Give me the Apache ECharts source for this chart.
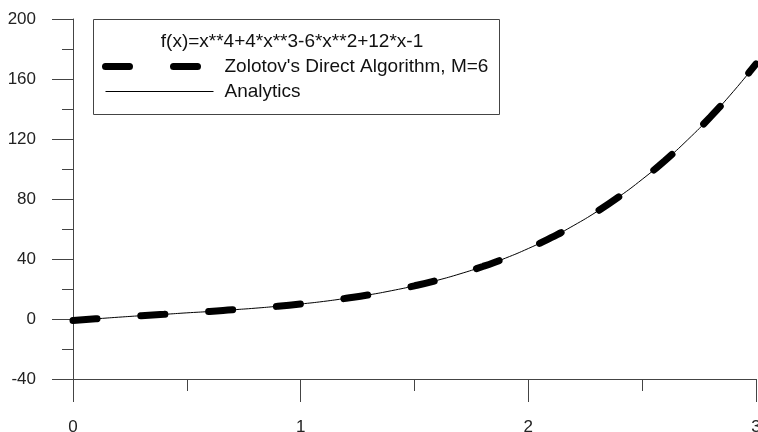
<!DOCTYPE html>
<html>
<head>
<meta charset="utf-8">
<script src="https://cdn.jsdelivr.net/npm/echarts@6/dist/echarts.min.js"></script>
<style>
  html, body { margin: 0; padding: 0; background: #fff; }
  #chart { width: 758px; height: 432px; }
</style>
</head>
<body>
<div id="chart"></div>
<script>
// values
const xValues = [0, 0.1, 0.2, 0.3, 0.4, 0.5, 0.6, 0.7, 0.8, 0.9, 1.0,
    1.1, 1.2, 1.3, 1.4, 1.5, 1.6, 1.7, 1.8, 1.9, 2.0,
    2.1, 2.2, 2.3, 2.4, 2.5, 2.6, 2.7, 2.8, 2.9, 3.0];
const zolotovY = [-1, 0.1, 1.2, 2.2, 3.1, 4.1, 5, 6.1, 7.2, 8.5, 10,
    11.7, 13.8, 16.1, 18.9, 22.1, 25.8, 30.1, 35, 40.6, 47,
    54.2, 62.4, 71.5, 81.7, 93.1, 105.6, 119.5, 134.8, 151.6, 170];
const analyticY = [-1, 0.1, 1.2, 2.2, 3.1, 4.1, 5, 6.1, 7.2, 8.5, 10,
    11.7, 13.8, 16.1, 18.9, 22.1, 25.8, 30.1, 35, 40.6, 47,
    54.2, 62.4, 71.5, 81.7, 93.1, 105.6, 119.5, 134.8, 151.6, 170];
const xTicks = [0, 1, 2, 3];
const yTicks = [-40, 0, 40, 80, 120, 160, 200];
const legendTitle = 'f(x)=x**4+4*x**3-6*x**2+12*x-1';
const seriesNames = ["Zolotov's Direct Algorithm, M=6", 'Analytics'];

const font = '"Liberation Sans", Arial, sans-serif';
const axisColor = '#444';

function pairs(ys) {
    return xValues.map((x, i) => [x, ys[i]]);
}

const chart = echarts.init(document.getElementById('chart'), null, {renderer: 'canvas'});

let option = {
    backgroundColor: '#fff',
    animation: false,
    grid: {
        left: 73,
        right: 2,
        top: 19,
        bottom: 53,
        outerBoundsMode: 'none'
    },
    xAxis: {
        type: 'value',
        min: xTicks[0],
        max: xTicks[xTicks.length - 1],
        interval: 1,
        axisLine: {onZero: false, lineStyle: {color: axisColor, width: 1}},
        axisTick: {length: 23, lineStyle: {color: axisColor}},
        minorTick: {show: true, splitNumber: 2, length: 12, lineStyle: {color: axisColor}},
        splitLine: {show: false},
        axisLabel: {
            margin: 40,
            color: '#222',
            fontFamily: font,
            fontSize: 17,
            showMaxLabel: true,
            hideOverlap: false
        }
    },
    yAxis: {
        type: 'value',
        min: yTicks[0],
        max: yTicks[yTicks.length - 1],
        interval: 40,
        axisLine: {show: true, lineStyle: {color: axisColor, width: 1}},
        axisTick: {show: true, length: 21, lineStyle: {color: axisColor}},
        minorTick: {show: true, splitNumber: 2, length: 11, lineStyle: {color: axisColor}},
        splitLine: {show: false},
        axisLabel: {
            margin: 37,
            color: '#222',
            fontFamily: font,
            fontSize: 17
        }
    },
    legend: {
        orient: 'vertical',
        left: 102,
        top: 57,
        padding: 0,
        itemWidth: 108,
        itemHeight: 20,
        itemGap: 6,
        selectedMode: false,
        textStyle: {color: '#111', fontFamily: font, fontSize: 19, padding: [0, 0, 0, 6]},
        itemStyle: {color: 'transparent', borderWidth: 0},
        data: [
            {name: seriesNames[0], lineStyle: {width: 7, color: '#000', type: [24, 44], cap: 'round'}},
            {name: seriesNames[1], lineStyle: {width: 1, color: '#000', type: 'solid'}}
        ]
    },
    graphic: [
        {
            type: 'rect',
            left: 93,
            top: 19,
            shape: {width: 406, height: 95},
            style: {fill: '#fff', stroke: '#444', lineWidth: 1},
            z: 0
        },
        {
            type: 'text',
            x: 292,
            y: 42,
            style: {
                text: legendTitle,
                fill: '#111',
                font: '19px ' + font,
                textAlign: 'center',
                textVerticalAlign: 'middle'
            },
            z: 10
        }
    ],
    series: [
        {
            name: seriesNames[1],
            type: 'line',
            data: pairs(analyticY),
            showSymbol: false,
            symbol: 'none',
            smooth: true,
            lineStyle: {color: '#000', width: 1},
            z: 3
        },
        {
            name: seriesNames[0],
            type: 'line',
            data: pairs(zolotovY),
            showSymbol: false,
            symbol: 'none',
            smooth: true,
            lineStyle: {color: '#000', width: 7, type: [24, 44], cap: 'round'},
            z: 2
        }
    ]
};

chart.setOption(option);
</script>
</body>
</html>
